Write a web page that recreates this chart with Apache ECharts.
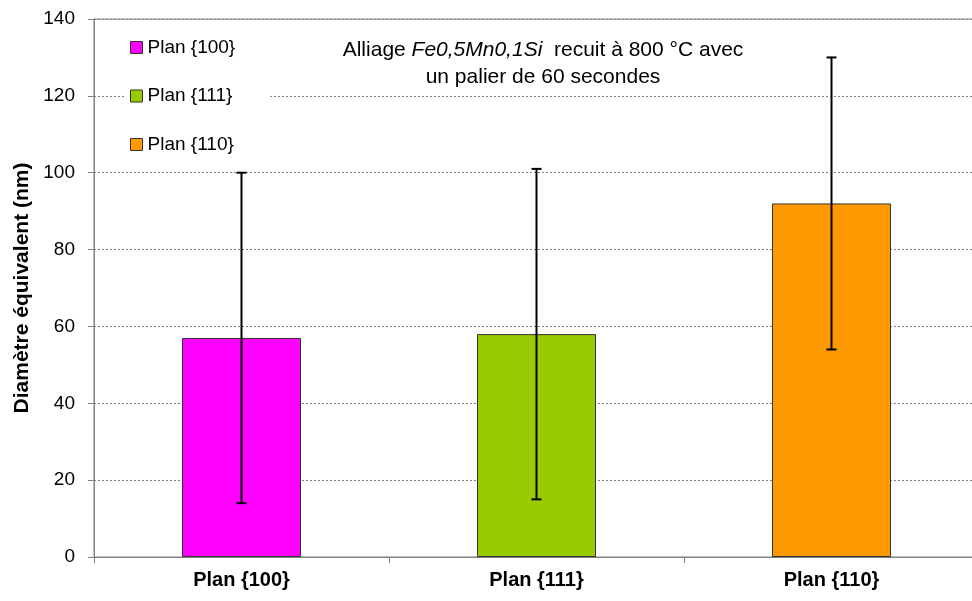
<!DOCTYPE html>
<html><head><meta charset="utf-8">
<script src="https://cdn.jsdelivr.net/npm/echarts@6/dist/echarts.min.js"></script>
<style>html,body{margin:0;padding:0;background:#fff}#c{width:972px;height:601px}</style>
</head><body><div id="c"></div>
<script>
const categories = ['Plan {100}', 'Plan {111}', 'Plan {110}'];
const values = [57, 58, 92];
const errLow = [14, 15, 54];
const errHigh = [100, 101, 130];
const colors = ['#FF00FF', '#99CC00', '#FF9900'];
const yTicks = [0, 20, 40, 60, 80, 100, 120, 140];

const FONT = 'Liberation Sans, Arial, sans-serif';
const chart = echarts.init(document.getElementById('c'));

const barSeries = categories.map((name, i) => ({
  name: name,
  type: 'bar',
  data: values.map((v, j) => (j === i ? v : '-')),
  barWidth: 119,
  barGap: '-100%',
  itemStyle: { color: colors[i], borderColor: '#333', borderWidth: 1 },
  z: 2
}));

const errSeries = {
  type: 'custom',
  name: 'err',
  z: 5,
  data: categories.map((c, i) => [i, errLow[i], errHigh[i]]),
  renderItem: function (params, api) {
    const x = api.value(0);
    const lo = api.coord([x, api.value(1)]);
    const hi = api.coord([x, api.value(2)]);
    const cap = 5;
    const st = { stroke: '#000', lineWidth: 2 };
    return {
      type: 'group',
      children: [
        { type: 'line', shape: { x1: lo[0], y1: lo[1], x2: hi[0], y2: hi[1] }, style: st },
        { type: 'line', shape: { x1: lo[0] - cap, y1: lo[1], x2: lo[0] + cap, y2: lo[1] }, style: st },
        { type: 'line', shape: { x1: hi[0] - cap, y1: hi[1], x2: hi[0] + cap, y2: hi[1] }, style: st }
      ]
    };
  }
};

chart.setOption({
  animation: false,
  backgroundColor: '#fff',
  textStyle: { fontFamily: FONT },
  title: {
    text: '{n|Alliage }{i|Fe0,5Mn0,1Si}{n|  recuit à 800 °C avec}\n{n|un palier de 60 secondes}',
    left: 538,
    textAlign: 'center',
    top: 32,
    textStyle: {
      fontWeight: 'normal',
      rich: {
        n: { fontFamily: FONT, fontSize: 21, fontWeight: 'normal', color: '#000', lineHeight: 27 },
        i: { fontFamily: FONT, fontSize: 21, fontWeight: 'normal', fontStyle: 'italic', color: '#000', lineHeight: 27 }
      }
    }
  },
  legend: {
    orient: 'vertical',
    left: 125,
    top: 28,
    padding: [10, 35, 10, 5],
    backgroundColor: '#fff',
    itemWidth: 12,
    itemHeight: 12,
    itemGap: 29.5,
    icon: 'rect',
    data: categories,
    itemStyle: { borderColor: '#333', borderWidth: 1 },
    textStyle: { fontFamily: FONT, fontSize: 19, lineHeight: 19, color: '#000' }
  },
  grid: {
    left: 94, top: 19, right: -7, bottom: 44,
    outerBoundsMode: 'none',
    containLabel: false,
    show: true, borderColor: '#808080', borderWidth: 1, backgroundColor: 'transparent'
  },
  xAxis: {
    type: 'category',
    data: categories,
    axisLine: { lineStyle: { color: '#808080', width: 1 } },
    axisTick: { show: true, alignWithLabel: false, length: 6, lineStyle: { color: '#808080' } },
    axisLabel: { fontFamily: FONT, fontSize: 20, fontWeight: 'bold', color: '#000', margin: 13 }
  },
  yAxis: {
    type: 'value',
    min: yTicks[0],
    max: yTicks[yTicks.length - 1],
    interval: 20,
    name: 'Diamètre équivalent (nm)',
    nameLocation: 'middle',
    nameGap: 61,
    nameTextStyle: { fontFamily: FONT, fontSize: 21, fontWeight: 'bold', color: '#000' },
    axisLine: { show: true, lineStyle: { color: '#808080', width: 1 } },
    axisTick: { show: true, length: 6, lineStyle: { color: '#808080' } },
    axisLabel: { fontFamily: FONT, fontSize: 19, color: '#000', margin: 19 },
    splitLine: { show: true, lineStyle: { color: '#808080', type: [2, 2], width: 1 } }
  },
  series: barSeries.concat([errSeries])
});
</script></body></html>
